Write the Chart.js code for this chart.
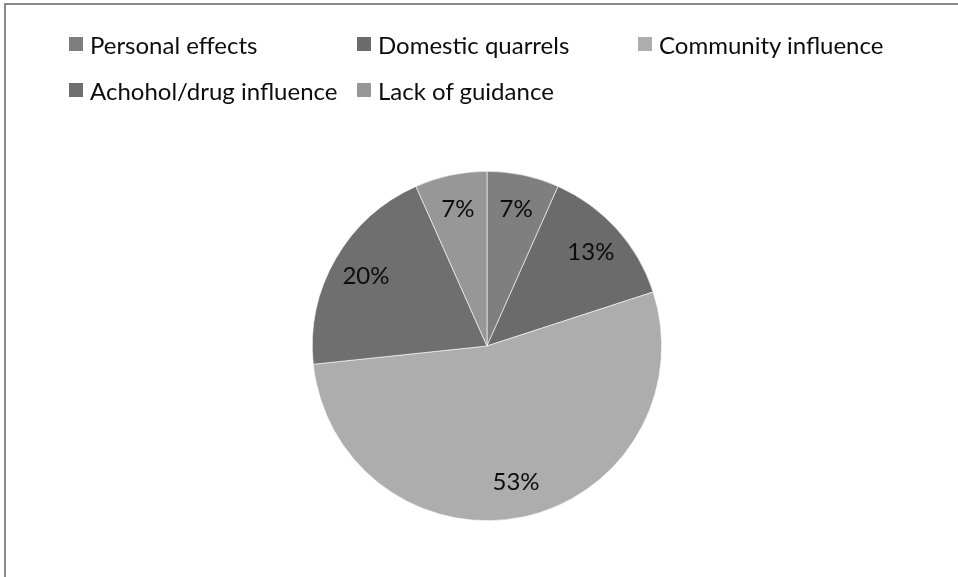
<!DOCTYPE html>
<html>
<head>
<meta charset="utf-8">
<script src="https://cdn.jsdelivr.net/npm/chart.js@4"></script>
<style>
  body { margin: 0; background: #fff; }
  #wrap { position: relative; width: 958px; height: 577px; overflow: hidden; }
  #frame { position: absolute; left: 4px; top: 3px; width: 1000px; height: 700px;
           border-top: 2px solid #8a8a8a; border-left: 2px solid #8a8a8a; }
  #chart { position: absolute; left: 0; top: 0; }
  #legend { position: absolute; left: 69px; top: 30px; display: grid;
            grid-template-columns: 288px 281px 280px; row-gap: 18px;
            font-family: Lato, sans-serif; font-size: 24px; color: #0d0d0d; }
  .item { display: flex; align-items: center; height: 28px; white-space: nowrap; }
  .box { width: 14px; height: 14px; margin-right: 7px; flex: none; }
</style>
</head>
<body>
<div id="wrap">
  <div id="frame"></div>
  <canvas id="chart" width="958" height="577"></canvas>
  <div id="legend"></div>
</div>
<script>
const categories = ['Personal effects', 'Domestic quarrels', 'Community influence', 'Achohol/drug influence', 'Lack of guidance'];
const counts = [1, 2, 8, 3, 1];
const colors = ['#7f7f7f', '#6b6b6b', '#adadad', '#6f6f6f', '#979797'];

const total = counts.reduce((a, b) => a + b, 0);

// percent labels placed inside each slice
const sliceLabels = {
    id: 'sliceLabels',
    afterDatasetsDraw(chart) {
        const ctx = chart.ctx;
        const meta = chart.getDatasetMeta(0);
        ctx.save();
        ctx.font = '24px Lato, sans-serif';
        ctx.fillStyle = '#0d0d0d';
        ctx.textAlign = 'center';
        ctx.textBaseline = 'middle';
        meta.data.forEach((arc, i) => {
            const p = arc.getProps(['x', 'y', 'startAngle', 'endAngle', 'outerRadius']);
            const mid = (p.startAngle + p.endAngle) / 2;
            const r = p.outerRadius * 0.8;
            const pct = Math.round(counts[i] / total * 100) + '%';
            ctx.fillText(pct, p.x + Math.cos(mid) * r, p.y + Math.sin(mid) * r);
        });
        ctx.restore();
    }
};

const ctx = document.getElementById('chart').getContext('2d');
const chart = new Chart(ctx, {
    type: 'pie',
    data: {
        labels: categories,
        datasets: [{
            data: counts,
            backgroundColor: colors,
            borderColor: '#ffffff',
            borderWidth: 0.6
        }]
    },
    options: {
        responsive: false,
        animation: false,
        layout: { padding: { top: 171, bottom: 56, left: 16, right: 0 } },
        plugins: {
            legend: { display: false },
            tooltip: { enabled: false }
        }
    },
    plugins: [sliceLabels]
});

// legend as a grid, built from the chart data
const legendEl = document.getElementById('legend');
chart.data.labels.forEach((label, i) => {
    const item = document.createElement('div');
    item.className = 'item';
    const box = document.createElement('span');
    box.className = 'box';
    box.style.background = chart.data.datasets[0].backgroundColor[i];
    item.appendChild(box);
    item.appendChild(document.createTextNode(label));
    legendEl.appendChild(item);
});
</script>
</body>
</html>
